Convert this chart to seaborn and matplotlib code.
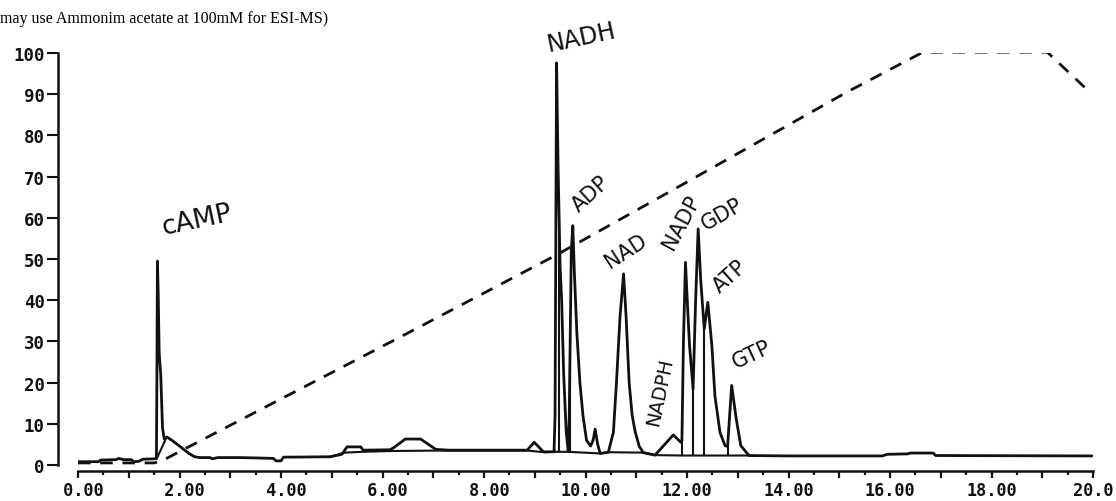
import numpy as np
import pandas as pd
import matplotlib
matplotlib.use("Agg")
import matplotlib.pyplot as plt
import seaborn as sns

# Detector trace: retention time (min) and relative response (%)
signal_time = [
    0.00, 0.40, 0.45, 0.75, 0.80, 0.90, 1.05, 1.10, 1.20, 1.28, 1.50, 1.545,
    1.555, 1.565, 1.58, 1.60, 1.63, 1.665, 1.70, 1.75, 1.85, 2.00, 2.10, 2.20,
    2.30, 2.40, 2.60, 2.65, 2.75, 3.20, 3.55, 3.85, 3.90, 4.00, 4.05, 4.97,
    5.20, 5.30, 5.57, 5.62, 6.15, 6.22, 6.45, 6.75, 7.05, 7.30, 8.85, 8.99,
    9.17, 9.38, 9.40, 9.43, 9.46, 9.50, 9.53, 9.57, 9.62, 9.66, 9.68, 9.72,
    9.75, 9.78, 9.83, 9.89, 9.95, 10.02, 10.10, 10.15, 10.19, 10.24, 10.29,
    10.45, 10.55, 10.61, 10.68, 10.75, 10.80, 10.86, 10.92, 10.98, 11.06,
    11.14, 11.37, 11.73, 11.88, 11.90, 11.93, 11.97, 12.01, 12.05, 12.12,
    12.17, 12.22, 12.27, 12.34, 12.41, 12.49, 12.55, 12.65, 12.75, 12.80,
    12.84, 12.88, 12.97, 13.06, 13.22, 14.00, 15.85, 15.95, 16.35, 16.40,
    16.85, 16.90, 19.98,
]
signal_value = [
    0.8, 0.8, 1.2, 1.3, 1.6, 1.3, 1.3, 0.8, 0.9, 1.4, 1.5, 1.6,
    22.0, 49.5, 42.0, 27.0, 22.0, 9.0, 6.3, 6.8, 6.0, 4.6, 3.6, 2.7,
    2.0, 1.8, 1.8, 1.5, 1.8, 1.8, 1.7, 1.6, 1.0, 1.0, 1.9, 2.0,
    2.6, 4.4, 4.4, 3.6, 3.7, 4.2, 6.3, 6.3, 3.8, 3.6, 3.6, 5.5,
    3.2, 3.2, 12.0, 97.6, 72.0, 48.0, 40.0, 22.0, 8.0, 3.3, 12.0, 52.0,
    58.1, 47.0, 32.0, 20.0, 12.0, 6.0, 4.6, 6.0, 8.7, 5.0, 2.8,
    3.1, 8.0, 20.0, 36.0, 46.4, 36.0, 20.0, 12.0, 8.0, 4.5,
    3.0, 2.4, 7.3, 5.5, 6.0, 30.0, 49.2, 38.7, 29.0, 18.4,
    40.0, 57.3, 45.0, 33.0, 39.5, 29.0, 16.8, 7.9, 4.7, 4.5,
    12.0, 19.3, 11.2, 4.7, 2.3, 2.2, 2.2, 2.6, 2.7, 2.9,
    2.9, 2.3, 2.2,
]

# Integrator baseline drawn beneath the peaks (None separates pieces)
baseline_time = [1.55, 1.74, None, 4.97, 5.25, 5.60, 6.20, 7.10, 8.85, 9.20,
                 9.38, 9.66, 10.29, 10.45, 11.14, 11.37, 11.90, 12.80, 13.22]
baseline_value = [1.5, 6.6, None, 2.0, 3.0, 3.2, 3.4, 3.5, 3.5, 3.1,
                  3.2, 3.2, 2.8, 3.1, 3.0, 2.4, 2.3, 2.3, 2.3]

# Perpendicular drops at the peak boundaries (min)
drop_times = [9.48, 9.69, 11.90, 12.12, 12.34, 12.80]

# Eluent gradient program (%)
gradient_time = [0.0, 1.5, 1.65, 6.34, 9.43, 11.93, 15.15, 16.65, 19.10, 19.85]
gradient_value = [0.5, 0.5, 1.0, 31.0, 51.0, 68.2, 90.5, 100.2, 100.2, 91.5]

# Peak identities
peak_names = ["cAMP", "NADH", "ADP", "NAD", "NADP", "GDP", "ATP", "GTP", "NADPH"]

x_label_values = np.arange(0, 20.01, 2)
y_ticks = np.arange(0, 101, 10)

sns.set_theme(style="ticks")
plt.rcParams["font.family"] = ["DejaVu Sans"]

W, H, DPI = 11.16, 5.02, 100
fig = plt.figure(figsize=(W, H), dpi=DPI)
ax = fig.add_axes([78 / 1116, 36 / 502, 1015 / 1116, 412 / 502])
ax.set_facecolor("white")
fig.patch.set_facecolor("white")

ink = "#111111"

sig = pd.DataFrame({"time": signal_time, "response": signal_value})
grad = pd.DataFrame({"time": gradient_time, "percent": gradient_value})

sns.lineplot(data=grad, x="time", y="percent", ax=ax, color=ink, lw=2.0,
             linestyle=(0, (4.5, 3.5)), estimator=None, sort=False)
sns.lineplot(data=sig, x="time", y="response", ax=ax, color=ink, lw=2.0,
             estimator=None, sort=False)

# baseline pieces
seg_t, seg_v = [], []
for t, v in zip(baseline_time + [None], baseline_value + [None]):
    if t is None:
        if seg_t:
            bdf = pd.DataFrame({"time": seg_t, "response": seg_v})
            sns.lineplot(data=bdf, x="time", y="response", ax=ax, color=ink,
                         lw=1.5, estimator=None, sort=False)
        seg_t, seg_v = [], []
    else:
        seg_t.append(t)
        seg_v.append(v)

bt = [t for t in baseline_time if t is not None]
bv = [v for v in baseline_value if v is not None]
drop_top = np.interp(drop_times, signal_time, signal_value)
drop_bot = np.interp(drop_times, bt, bv)
ax.vlines(drop_times, drop_bot, drop_top, color=ink, lw=1.5)

ax.set_xlim(0, 20)
ax.set_ylim(0, 100)
ax.set_xlabel("")
ax.set_ylabel("")

sns.despine(ax=ax, offset={"left": 14.4, "bottom": 4.3})
ax.spines["left"].set_bounds(0, 100)
ax.spines["bottom"].set_bounds(0, 20)
for s in ("left", "bottom"):
    ax.spines[s].set_linewidth(1.8)
    ax.spines[s].set_color(ink)

mono = {"family": "DejaVu Sans Mono", "weight": "bold"}
ax.set_yticks(y_ticks)
ax.set_yticklabels([f"{int(v)}" for v in y_ticks], fontsize=12.5, **mono)

# whole minutes carry a tick, every second minute a label; the label's
# decimal point sits on the tick
major = np.arange(0, 20.01, 1)
labels = []
for v in major:
    if v in x_label_values:
        labels.append("20.0" if v == 20 else f"{v:5.2f}")
    else:
        labels.append("")
ax.set_xticks(major)
ax.set_xticklabels(labels, fontsize=12.2, **mono)
ax.set_xticks(np.arange(0.5, 20, 1.0), minor=True)
ax.tick_params(axis="y", direction="out", length=8, width=1.5, pad=1.5,
               colors=ink)
ax.tick_params(axis="x", which="major", direction="out", length=5,
               width=1.6, pad=2.0, colors=ink)
ax.tick_params(axis="x", which="minor", direction="out", length=3,
               width=1.6, colors=ink)
ax.grid(False)

# handwritten-style peak labels
label_layout = {
    "cAMP": (2.34, 59.5, 12, 19),
    "NADH": (9.91, 104.0, 12, 17),
    "ADP": (10.11, 66.0, 42, 15),
    "NAD": (10.80, 52.0, 33, 15),
    "NADP": (11.88, 59.0, 62, 15),
    "GDP": (12.69, 61.0, 30, 15),
    "ATP": (12.85, 46.0, 42, 15),
    "GTP": (13.28, 27.0, 25, 15),
    "NADPH": (11.47, 18.0, 78, 14),
}
for name in peak_names:
    x, y, rot, fs = label_layout[name]
    ax.text(x, y, name, rotation=rot, fontsize=fs, ha="center", va="center",
            color=ink, family="DejaVu Sans", clip_on=False,
            rotation_mode="anchor")

fig.text(0.5 / 1116, 1 - 23 / 502,
         "may use Ammonim acetate at 100mM for ESI-MS)",
         family="Liberation Serif", fontsize=11.5, ha="left", va="baseline",
         color="black")

fig.savefig("out.png", dpi=DPI, facecolor="white")
